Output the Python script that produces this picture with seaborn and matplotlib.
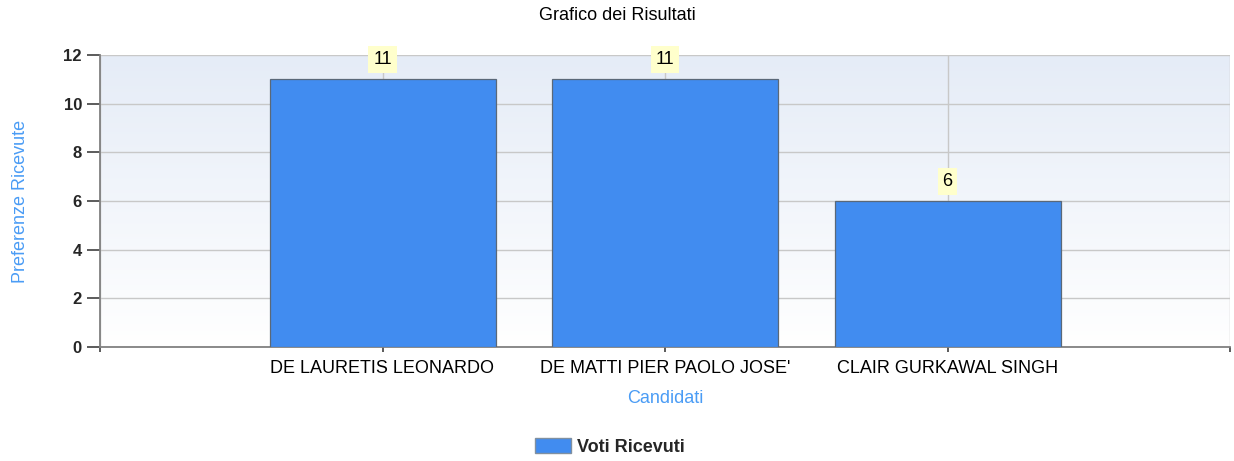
import matplotlib
matplotlib.use("Agg")
import matplotlib.pyplot as plt
import seaborn as sns
import numpy as np
import pandas as pd
from matplotlib.patches import Patch
from matplotlib.colors import LinearSegmentedColormap

candidati = ["DE LAURETIS LEONARDO", "DE MATTI PIER PAOLO JOSE'", "CLAIR GURKAWAL SINGH"]
voti = [11, 11, 6]
y_ticks = [0, 2, 4, 6, 8, 10, 12]

sns.set_theme(style="white")
plt.rcParams['font.family'] = ['Liberation Sans', 'DejaVu Sans']

df = pd.DataFrame({"Candidati": candidati, "Voti": voti})

fig = plt.figure(figsize=(12.34, 4.61), dpi=100)
ax = fig.add_axes([100/1234, 1-347/461, 1130/1234, 292/461])

# gradient background
grad = np.linspace(0, 1, 256).reshape(-1, 1)
cmap = LinearSegmentedColormap.from_list("bg", ["#FFFFFF", "#E5ECF7"])
ax.imshow(grad, extent=[0, 1, 0, 1], transform=ax.transAxes, cmap=cmap,
          aspect='auto', origin='lower', zorder=0)

sns.barplot(data=df, x="Candidati", y="Voti", color="#418CF0", width=0.8,
            edgecolor="#5A6878", linewidth=0.9, saturation=1, ax=ax, zorder=3)

ax.set_xlim(-1, 3)
ax.set_ylim(0, 12)
ax.set_yticks(y_ticks)
ax.set_xticks([-1, 0, 1, 2, 3])
ax.set_xticklabels([""] + candidati + [""], fontsize=13, color="#000000")
ax.set_yticklabels([str(t) for t in y_ticks], fontsize=12, fontweight="bold")

ax.grid(True, color="#C8C8C8", linewidth=1, zorder=1)
ax.set_axisbelow(True)
for s in ["top", "right"]:
    ax.spines[s].set_visible(False)
for s in ["left", "bottom"]:
    ax.spines[s].set_color("#808080")
    ax.spines[s].set_linewidth(1.3)
ax.tick_params(axis="x", direction="out", length=3.6, width=1.2, color="#404040",
               bottom=True, pad=6)
ax.tick_params(axis="y", direction="out", length=9.4, width=1.2, color="#404040",
               left=True, pad=3.6)

for c in ax.containers:
    labels = ax.bar_label(c, padding=8, fontsize=13, color="#000000")
    for t in labels:
        t.set_bbox(dict(facecolor="#FFFFCC", edgecolor="none", pad=3.5))
        t.set_zorder(5)

ax.set_xlabel("Candidati", color="#4A9CF5", fontsize=13, labelpad=9)
ax.set_ylabel("Preferenze Ricevute", color="#4A9CF5", fontsize=13, labelpad=25)

fig.text(617/1234, 1-16/461, "Grafico dei Risultati", ha="center", va="center",
         fontsize=13, color="#000000")

handles = [Patch(facecolor="#418CF0", edgecolor="#8090A0", label="Voti Ricevuti")]
leg = fig.legend(handles=handles, loc="center", bbox_to_anchor=(610/1234, 1-447/461),
                 frameon=False, prop={"weight": "bold", "size": 13},
                 handlelength=2.0, handleheight=0.9, handletextpad=0.35)

fig.savefig("out.png", dpi=100)
